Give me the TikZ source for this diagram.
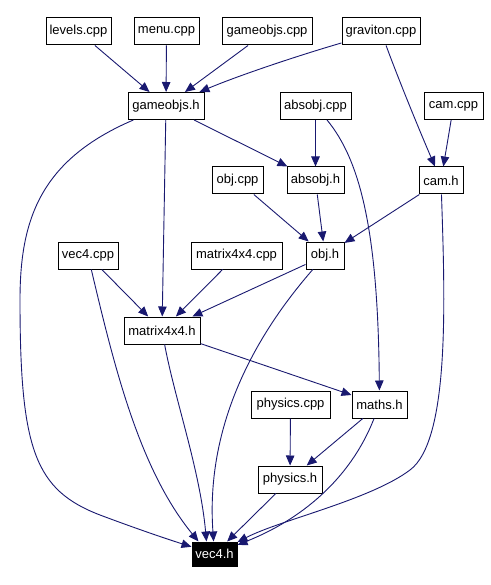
\documentclass[tikz,border=0pt]{standalone}
\usepackage{fontspec}
\setmainfont{Liberation Sans}
\usetikzlibrary{arrows.meta}
\definecolor{edgecol}{HTML}{191970}
\begin{document}
\begin{tikzpicture}[x=1pt,y=-1pt,
  file/.style={draw=black,line width=1pt,fill=white,minimum height=27pt,inner xsep=0pt,inner ysep=0pt,font=\fontsize{13}{15}\selectfont},
  curfile/.style={file,fill=black,text=white,minimum height=24pt},
  dep/.style={draw=edgecol,line width=0.9pt,-{Triangle[length=10pt,width=8.5pt]},edgecol}]
\useasboundingbox (0,0) rectangle (490,585);
\node[file,minimum width=65pt] (levels) at (78.5,31.5) {levels.cpp};
\node[file,minimum width=65pt] (menu) at (166.5,31.5) {menu.cpp};
\node[file,minimum width=90pt] (gocpp) at (267,31.5) {gameobjs.cpp};
\node[file,minimum width=78pt] (grav) at (381,31.5) {graviton.cpp};
\node[file,minimum width=76pt] (goh) at (166,106) {gameobjs.h};
\node[file,minimum width=71pt] (abscpp) at (315.5,106) {absobj.cpp};
\node[file,minimum width=59pt] (camcpp) at (453.5,106) {cam.cpp};
\node[file,minimum width=51pt] (objcpp) at (237.5,180.5) {obj.cpp};
\node[file,minimum width=57pt] (absh) at (315.5,180.5) {absobj.h};
\node[file,minimum width=44pt] (camh) at (441,180.5) {cam.h};
\node[file,minimum width=60pt] (veccpp) at (88,255.5) {vec4.cpp};
\node[file,minimum width=91pt] (matcpp) at (236.5,255.5) {matrix4x4.cpp};
\node[file,minimum width=38pt] (objh) at (325,255.5) {obj.h};
\node[file,minimum width=76pt] (math) at (162,330.5) {matrix4x4.h};
\node[file,minimum width=79pt] (phycpp) at (290.5,404.5) {physics.cpp};
\node[file,minimum width=55pt] (mathsh) at (379.5,404.5) {maths.h};
\node[file,minimum width=64pt] (phyh) at (290,479.5) {physics.h};
\node[curfile,minimum width=45pt] (vech) at (214.5,554) {vec4.h};

\draw[dep] (levels) -- (goh);
\draw[dep] (menu) -- (goh);
\draw[dep] (gocpp) -- (goh);
\draw[dep] (grav) .. controls (300,55) and (240,75) .. (goh);
\draw[dep] (grav) .. controls (395,70) and (415,120) .. (camh);
\draw[dep] (camcpp) -- (camh);
\draw[dep] (abscpp) -- (absh);
\draw[dep] (abscpp) .. controls (360,160) and (378,230) .. (mathsh);
\draw[dep] (goh) -- (absh);
\draw[dep] (goh) -- (math);
\draw[dep] (goh) .. controls (40,160) and (20,220) .. (20,300)
  .. controls (20,450) and (35,490) .. (100,515)
  .. controls (140,530) and (170,540) .. (vech);
\draw[dep] (objcpp) -- (objh);
\draw[dep] (absh) -- (objh);
\draw[dep] (camh) -- (objh);
\draw[dep] (camh) .. controls (445,300) and (450,440) .. (410,470)
  .. controls (370,500) and (280,520) .. (vech);
\draw[dep] (veccpp) .. controls (115,370) and (140,470) .. ([xshift=-16pt]vech.north);
\draw[dep] (veccpp) -- (math);
\draw[dep] (matcpp) -- (math);
\draw[dep] (objh) -- (math);
\draw[dep] (objh) .. controls (260,330) and (205,420) .. (vech);
\draw[dep] (math) -- (mathsh);
\draw[dep] (math) .. controls (175,400) and (200,470) .. ([xshift=-8pt]vech.north);
\draw[dep] (phycpp) -- (phyh);
\draw[dep] (mathsh) -- (phyh);
\draw[dep] (mathsh) .. controls (350,480) and (300,520) .. (vech);
\draw[dep] (phyh) -- (vech);
\end{tikzpicture}
\end{document}
